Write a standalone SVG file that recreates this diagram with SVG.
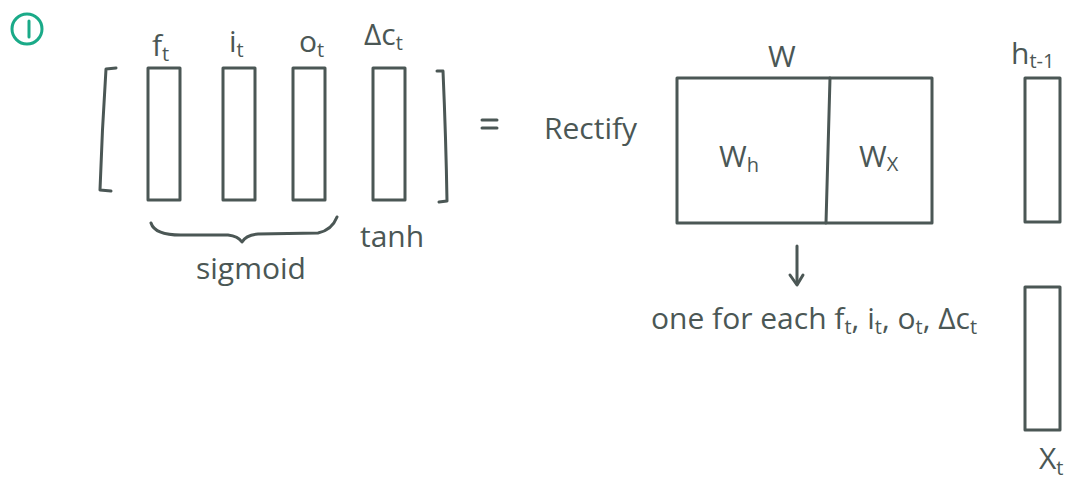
<svg xmlns="http://www.w3.org/2000/svg" width="1073" height="485" viewBox="0 0 1073 485">
  <style>
    .ink { fill: none; stroke: #4b5755; stroke-width: 3; stroke-linecap: round; stroke-linejoin: round; }
    .txt { fill: #4b5755; font-family: "Open Sans", "Liberation Sans", sans-serif; }
    .lbl { font-size: 30px; }
    .sub { font-size: 20px; }
  </style>
  <rect width="1073" height="485" fill="#ffffff"/>

  <!-- step marker -->
  <g id="step-1">
    <circle cx="27" cy="29" r="15" fill="none" stroke="#1aaa88" stroke-width="3"/>
    <line x1="29" y1="21" x2="29" y2="37" stroke="#1aaa88" stroke-width="3" stroke-linecap="round"/>
  </g>

  <!-- gate vector -->
  <g id="gate-vector">
    <path class="ink" d="M116 68 L106 69 Q102 130 100 190 L111 191"/>
    <path class="ink" d="M437 71 L443 71 Q446 140 447 201 L439 202"/>
    <rect class="ink" x="148" y="68" width="32" height="132"/>
    <rect class="ink" x="223" y="68" width="32" height="132"/>
    <rect class="ink" x="293" y="68" width="32" height="132"/>
    <rect class="ink" x="373" y="68" width="32" height="132"/>
    <text class="txt lbl" x="152" y="56">f<tspan class="sub" dy="5">t</tspan></text>
    <text class="txt lbl" x="229" y="52">i<tspan class="sub" dy="5">t</tspan></text>
    <text class="txt lbl" x="299" y="52">o<tspan class="sub" dy="5">t</tspan></text>
    <text class="txt lbl" x="364" y="45">Δc<tspan class="sub" dy="5">t</tspan></text>
    <path class="ink" d="M151 223 Q155 236 185 235 L228 235 Q238 236 242 242 Q246 235 258 234 L318 233 Q332 230 337 217"/>
    <text class="txt lbl" x="196" y="279">sigmoid</text>
    <text class="txt lbl" x="360" y="247">tanh</text>
  </g>

  <g id="equals">
    <line class="ink" x1="482" y1="120" x2="497" y2="120"/>
    <line class="ink" x1="482" y1="128" x2="497" y2="128"/>
  </g>

  <g id="rectify-label">
    <text class="txt lbl" x="544" y="139">Rectify</text>
  </g>

  <!-- weight matrix -->
  <g id="weight-matrix">
    <rect class="ink" x="677" y="78" width="255" height="145"/>
    <line class="ink" x1="830" y1="78" x2="826" y2="223"/>
    <text class="txt lbl" x="768" y="67">W</text>
    <text class="txt lbl" x="719" y="167">W<tspan class="sub" dy="5">h</tspan></text>
    <text class="txt lbl" x="859" y="167">W<tspan class="sub" dy="4">X</tspan></text>
  </g>

  <!-- hidden state and input vectors -->
  <g id="h-prev">
    <rect class="ink" x="1025" y="78" width="35" height="144"/>
    <text class="txt lbl" x="1011" y="64">h<tspan class="sub" dy="4">t-1</tspan></text>
  </g>
  <g id="x-t">
    <rect class="ink" x="1025" y="287" width="35" height="143"/>
    <text class="txt lbl" x="1039" y="469">X<tspan class="sub" dy="6">t</tspan></text>
  </g>

  <!-- arrow to note -->
  <g id="connectors">
    <line class="ink" x1="797" y1="246" x2="797" y2="284"/>
    <path class="ink" d="M790 275 L797 285 L803 275"/>
  </g>
  <g id="note">
    <text class="txt lbl" x="651" y="329">one for each f<tspan class="sub" dy="5">t</tspan><tspan dy="-5">, i</tspan><tspan class="sub" dy="5">t</tspan><tspan dy="-5">, o</tspan><tspan class="sub" dy="5">t</tspan><tspan dy="-5">, Δc</tspan><tspan class="sub" dy="5">t</tspan></text>
  </g>
</svg>
